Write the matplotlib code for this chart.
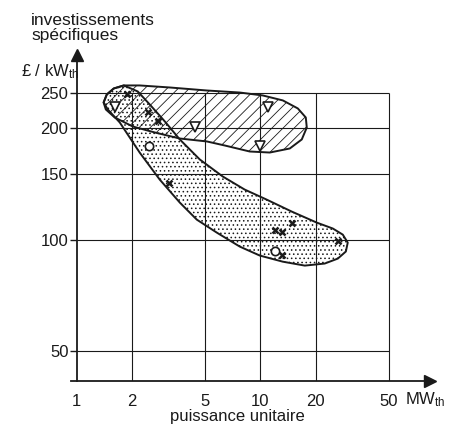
import matplotlib
matplotlib.use("Agg")
import matplotlib.pyplot as plt
from matplotlib.patches import Polygon

plt.rcParams['font.family'] = ['Liberation Sans', 'DejaVu Sans']
plt.rcParams['mathtext.default'] = 'regular'
plt.rcParams['hatch.linewidth'] = 0.6

# outline of hatched zone (MW_th, £/kW_th)
hatch_x = [1.40, 1.457, 1.59, 1.803, 2.20, 3.21, 5.11, 7.72, 10.3, 13.25, 15.99, 17.67,
           17.89, 16.8, 14.46, 11.25, 8.75, 6.40, 5.11, 3.64, 2.66, 2.018, 1.61, 1.439]
hatch_y = [235, 247, 256.4, 261.3, 261.3, 258, 253.2, 250, 245.5, 238, 226.4, 214,
           201, 186.6, 176.4, 172, 173.1, 179.7, 184.3, 187.7, 194.9, 202.3, 214, 225]

# outline of dotted zone
dot_x = [1.803, 2.148, 2.498, 3.016, 3.64, 4.677, 6.24, 8.22, 10.8, 14.83, 20.3, 24.8,
         28.1, 29.9, 29.2, 26.4, 22.4, 17.45, 13.25, 9.92, 7.72, 5.79, 4.505, 3.64,
         2.83, 2.20, 1.715, 1.475, 1.40, 1.457, 1.59]
dot_y = [261.3, 251.7, 232, 208.8, 186.6, 164.7, 148.1, 136.5, 128.3, 119, 111.1, 107.1,
         103.1, 98.1, 92.8, 88.8, 86.1, 85, 87.1, 90.5, 95.7, 104.4, 113.2, 125.9,
         145.3, 172, 207.4, 225, 235, 247, 256.4]

tri_x = [1.61, 4.4, 11.0, 10.0]
tri_y = [229, 202, 228, 179]

star_x = [1.87, 2.44, 2.76, 3.17, 14.8, 12.0, 13.1, 13.1, 26.4]
star_y = [247, 222, 210, 142, 111, 106, 105, 91, 99]

circ_x = [2.47, 12.0]
circ_y = [179, 93]

xticks = [1, 2, 5, 10, 20, 50]
xlabels = ['1', '2', '5', '10', '20', '50']
yticks = [50, 100, 150, 200, 250]

fig = plt.figure(figsize=(4.61, 4.24), dpi=100)
ax = fig.add_axes([0.154, 0.1014, 0.779, 0.769])
ax.set_xscale('log')
ax.set_yscale('log')
ax.set_xlim(0.93, 84)
ax.set_ylim(41.4, 316)

ink = '#1a1a1a'

# grid
ax.hlines(yticks, 1, 50, color=ink, lw=0.8)
ax.vlines(xticks[1:], 41.4, 250, color=ink, lw=0.8)

dots = Polygon(list(zip(dot_x, dot_y)), closed=True, facecolor='none',
               edgecolor=ink, hatch='....', lw=1.4, joinstyle='round')
ax.add_patch(dots)
hatched = Polygon(list(zip(hatch_x, hatch_y)), closed=True, facecolor='none',
                  edgecolor=ink, hatch='///', lw=1.4, joinstyle='round')
ax.add_patch(hatched)

ax.plot(tri_x, tri_y, 'v', ms=7.5, mfc='white', mec=ink, mew=1.2, ls='none')
ax.plot(star_x, star_y, 'x', ms=5, mec=ink, mew=1.8, ls='none')
ax.plot(circ_x, circ_y, 'o', ms=6, mfc='white', mec=ink, mew=1.2, ls='none')

# axes
for s in ['top', 'right']:
    ax.spines[s].set_visible(False)
ax.spines['left'].set_position(('data', 1))
ax.spines['left'].set_linewidth(1.3)
ax.spines['bottom'].set_linewidth(1.3)
ax.spines['left'].set_color(ink)
ax.spines['bottom'].set_color(ink)
ax.plot([1], [316], marker='^', ms=8, color=ink, clip_on=False)
ax.plot([84], [41.4], marker='>', ms=8, color=ink, clip_on=False)

ax.set_xticks(xticks)
ax.set_xticklabels(xlabels)
ax.set_yticks(yticks)
ax.set_yticklabels([str(v) for v in yticks])
ax.minorticks_off()
ax.tick_params(axis='y', direction='out', length=5, width=1, colors=ink, labelsize=12, pad=1)
ax.tick_params(axis='x', direction='out', length=0, colors=ink, labelsize=12, pad=9)

ax.text(61, -0.03, 'MW$_{th}$', transform=ax.get_xaxis_transform(), fontsize=12,
        color=ink, ha='left', va='top')
fig.text(0.514, 0.0, 'puissance unitaire', fontsize=12, color=ink,
         ha='center', va='bottom')
fig.text(0.068, 0.97, 'investissements\nspécifiques', fontsize=12.5, color=ink,
         ha='left', va='top', linespacing=1.05)
fig.text(0.045, 0.83, '£ / kW$_{th}$', fontsize=12, color=ink, ha='left', va='center')

fig.savefig('out.png', dpi=100)
